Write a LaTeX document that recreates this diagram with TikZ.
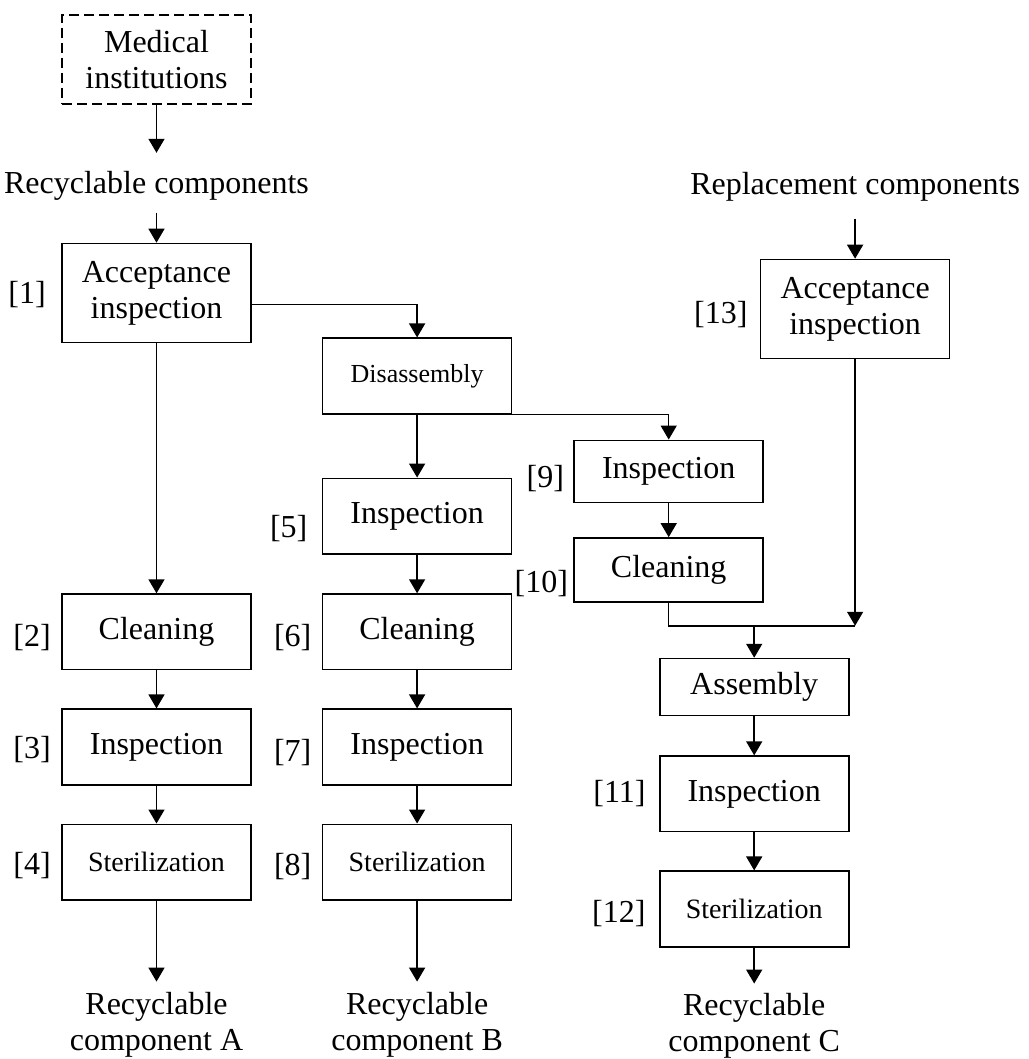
\documentclass[tikz,border=0pt]{standalone}
\usepackage{fontspec}
\setmainfont{Liberation Serif}
\usetikzlibrary{positioning,arrows.meta}

\begin{document}
\begin{tikzpicture}
\tikzstyle{proc}=[rectangle, draw=black, line width=0.8pt, minimum width=94.5pt, minimum height=37.75pt, align=center, inner sep=2pt, font=\fontsize{16pt}{18pt}\selectfont]
\tikzstyle{source}=[proc, dash pattern=on 5pt off 2.5pt, minimum height=44.5pt]
\tikzstyle{plain}=[inner sep=0pt, align=center, font=\fontsize{16pt}{18pt}\selectfont]
\tikzstyle{tag}=[inner sep=0pt, font=\fontsize{16pt}{18pt}\selectfont]
\tikzstyle{connect}=[-{Triangle[length=7pt,width=8pt]}, line width=0.75pt]
\tikzstyle{line}=[line width=0.75pt]

  \useasboundingbox (0,0) rectangle (514pt,-529.5pt);

  % column A
  \node[source] (med) at (78.25pt,-29.75pt) {Medical\\institutions};
  \node[plain] (rc) [below=33pt of med] {Recyclable components};
  \node[proc, minimum height=49.5pt] (acc1) [below=21pt of rc] {Acceptance\\inspection};
  \node[proc] (clean2) [below=125pt of acc1] {Cleaning};
  \node[proc] (insp3) [below=19pt of clean2] {Inspection};
  \node[proc, font=\fontsize{14pt}{16pt}\selectfont] (ster4) [below=19pt of insp3] {Sterilization};
  \node[plain] (outA) [below=45.5pt of ster4] {Recyclable\\component A};

  % column B
  \node[proc, font=\fontsize{13pt}{15pt}\selectfont] (dis) [right=35pt of acc1, yshift=-41.5pt] {Disassembly};
  \node[proc] (insp5) [below=31.5pt of dis] {Inspection};
  \node[proc] (clean6) [right=35pt of clean2] {Cleaning};
  \node[proc] (insp7) [right=35pt of insp3] {Inspection};
  \node[proc, font=\fontsize{14pt}{16pt}\selectfont] (ster8) [right=35pt of ster4] {Sterilization};
  \node[plain] (outB) [below=45.5pt of ster8] {Recyclable\\component B};

  % column C
  \node[proc, minimum height=31pt] (insp9) [below right=12.5pt and 30.5pt of dis] {Inspection};
  \node[proc, minimum height=32pt] (clean10) [below=17pt of insp9] {Cleaning};
  \node[proc, minimum height=28.5pt] (asm) [below=27.5pt of clean10, xshift=42.75pt] {Assembly};
  \coordinate[above=16pt of asm] (jn);
  \node[proc] (insp11) [below=19.5pt of asm] {Inspection};
  \node[proc, font=\fontsize{14pt}{16pt}\selectfont] (ster12) [below=19pt of insp11] {Sterilization};
  \node[plain] (outC) [below=22.5pt of ster12] {Recyclable\\component C};

  % replacement parts
  \node[proc, minimum height=49.5pt] (acc13) [right=254pt of acc1, yshift=-8pt] {Acceptance\\inspection};
  \node[plain] (rep) [above=28.5pt of acc13] {Replacement components};

  % step numbers
  \node[tag] (n1) [left=7.5pt of acc1, yshift=-1pt] {[1]};
  \node[tag] (n2) [left=5pt of clean2, yshift=-2.75pt] {[2]};
  \node[tag] (n3) [left=5pt of insp3, yshift=-1.5pt] {[3]};
  \node[tag] (n4) [left=5pt of ster4, yshift=-1.5pt] {[4]};
  \node[tag] (n5) [left=7pt of insp5, yshift=-6pt] {[5]};
  \node[tag] (n6) [left=5pt of clean6, yshift=-2.75pt] {[6]};
  \node[tag] (n7) [left=5pt of insp7, yshift=-3pt] {[7]};
  \node[tag] (n8) [left=5pt of ster8, yshift=-2.25pt] {[8]};
  \node[tag] (n9) [left=4.5pt of insp9, yshift=-3.75pt] {[9]};
  \node[tag] (n10) [left=2.5pt of clean10, yshift=-7pt] {[10]};
  \node[tag] (n11) [left=6.5pt of insp11] {[11]};
  \node[tag] (n12) [left=6.5pt of ster12, yshift=-2.25pt] {[12]};
  \node[tag] (n13) [left=6pt of acc13, yshift=-2.75pt] {[13]};

  \path (med) edge [connect, shorten >=9pt] (rc)
        (rc) edge [connect, shorten <=6pt] (acc1)
        (acc1) edge [connect] (clean2)
        (clean2) edge [connect] (insp3)
        (insp3) edge [connect] (ster4)
        (ster4) edge [connect, shorten >=5pt] (outA)
        (dis) edge [connect] (insp5)
        (insp5) edge [connect] (clean6)
        (clean6) edge [connect] (insp7)
        (insp7) edge [connect] (ster8)
        (ster8) edge [connect, shorten >=5pt] (outB)
        (insp9) edge [connect] (clean10)
        (jn) edge [connect] (asm)
        (asm) edge [connect] (insp11)
        (insp11) edge [connect] (ster12)
        (ster12) edge [connect, shorten >=4.5pt] (outC)
        (rep) edge [connect, shorten <=8.5pt] (acc13);
  \draw[connect] ([yshift=-5.75pt]acc1.east) -| (dis.north);
  \draw[connect] (dis.south east) -| (insp9.north);
  \draw[line] (clean10.south) |- (acc13.south |- jn);
  \draw[connect] (acc13) -- (acc13.south |- jn);
\end{tikzpicture}
\end{document}
